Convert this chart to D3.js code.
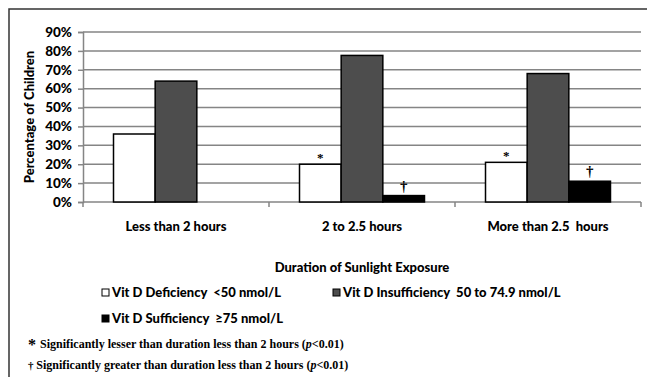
<!DOCTYPE html>
<html>
<head>
<meta charset="utf-8">
<script src="https://cdn.jsdelivr.net/npm/d3@7"></script>
<style>
  body { margin: 0; background: #fff; }
  svg { display: block; }
</style>
</head>
<body>
<div id="chart"></div>
<script>
(function(){
  'use strict';

  // data
  var categories = ['Less than 2 hours', '2 to 2.5 hours', 'More than 2.5  hours'];
  var seriesNames = ['Vit D Deficiency  <50 nmol/L', 'Vit D Insufficiency  50 to 74.9 nmol/L', 'Vit D Sufficiency  \u226575 nmol/L'];
  var deficiency = [36, 20, 21];
  var insufficiency = [64, 77.6, 68];
  var sufficiency = [0, 3.4, 11];
  var yTicks = [0, 10, 20, 30, 40, 50, 60, 70, 80, 90];
  // significance marks: series index, category index, symbol
  var marks = [
    {s: 0, c: 1, sym: '*'}, {s: 0, c: 2, sym: '*'},
    {s: 2, c: 1, sym: '\u2020'}, {s: 2, c: 2, sym: '\u2020'}
  ];
  var footnotes = [
    {sym: '*', text: 'Significantly lesser than duration less than 2 hours (', p: 'p', tail: '<0.01)'},
    {sym: '\u2020', text: 'Significantly greater than duration less than 2 hours (', p: 'p', tail: '<0.01)'}
  ];

  var series = [deficiency, insufficiency, sufficiency];
  var fills = ['#ffffff', '#4d4d4d', '#000000'];

  var W = 647, H = 377;
  var left = 83, right = 641, top = 32, bottom = 202;
  var sans = 'Lato, "Liberation Sans", Arial, sans-serif';
  var serif = '"Liberation Serif", "Times New Roman", serif';
  var fw = 900;

  var svg = d3.select('#chart').append('svg')
    .attr('width', W).attr('height', H);

  // outer frame (runs off right and bottom edges)
  svg.append('rect')
    .attr('x', 9).attr('y', 9).attr('width', 700).attr('height', 420)
    .attr('fill', 'none').attr('stroke', '#333').attr('stroke-width', 1.5);

  var x0 = d3.scaleBand().domain(d3.range(categories.length))
    .range([left, right]).paddingInner(0.328).paddingOuter(0.164);
  var x1 = d3.scaleBand().domain(d3.range(series.length))
    .range([0, x0.bandwidth()]).padding(0);
  var y = d3.scaleLinear().domain([0, 90]).range([bottom, top]);

  // gridlines
  svg.append('g').selectAll('line')
    .data(yTicks.slice(1)).enter().append('line')
    .attr('x1', left).attr('x2', right)
    .attr('y1', function(d){ return y(d); }).attr('y2', function(d){ return y(d); })
    .attr('stroke', '#858585').attr('stroke-width', 1.5);

  // y axis
  var yAxis = svg.append('g')
    .attr('transform', 'translate(' + left + ',0)')
    .call(d3.axisLeft(y).tickValues(yTicks).tickSize(5).tickPadding(6)
      .tickFormat(function(d){ return d + '%'; }));
  yAxis.select('.domain').attr('stroke', '#858585').attr('stroke-width', 1.5);
  yAxis.selectAll('.tick line').attr('stroke', '#858585').attr('stroke-width', 1.5);
  yAxis.selectAll('.tick text')
    .attr('font-family', sans).attr('font-weight', fw)
    .attr('font-size', 13.5).attr('fill', '#000');

  // x axis line with ticks between categories
  var tickXs = d3.range(categories.length + 1).map(function(i){
    return left + i * x0.step();
  });
  svg.append('line')
    .attr('x1', left).attr('x2', right).attr('y1', bottom).attr('y2', bottom)
    .attr('stroke', '#858585').attr('stroke-width', 1.5);
  svg.append('g').selectAll('line').data(tickXs).enter().append('line')
    .attr('x1', function(d){ return d; }).attr('x2', function(d){ return d; })
    .attr('y1', bottom).attr('y2', bottom + 5)
    .attr('stroke', '#858585').attr('stroke-width', 1.5);

  // bars
  var groups = svg.append('g').selectAll('g')
    .data(categories).enter().append('g')
    .attr('transform', function(d, i){ return 'translate(' + x0(i) + ',0)'; });

  groups.selectAll('rect')
    .data(function(d, ci){
      return series.map(function(s, si){ return {s: si, v: s[ci]}; });
    })
    .enter().append('rect')
    .filter(function(d){ return d.v > 0; })
    .attr('x', function(d){ return x1(d.s); })
    .attr('width', x1.bandwidth())
    .attr('y', function(d){ return y(d.v); })
    .attr('height', function(d){ return y(0) - y(d.v); })
    .attr('fill', function(d){ return fills[d.s]; })
    .attr('stroke', '#000').attr('stroke-width', 1.5);

  // significance symbols
  svg.append('g').selectAll('text')
    .data(marks).enter().append('text')
    .attr('x', function(d){ return x0(d.c) + x1(d.s) + x1.bandwidth() / 2; })
    .attr('y', function(d){ return y(series[d.s][d.c]) - (d.sym === '*' ? 2 : 5); })
    .attr('text-anchor', 'middle')
    .attr('font-family', serif).attr('font-weight', 'bold')
    .attr('font-size', function(d){ return d.sym === '*' ? 13 : 15; })
    .text(function(d){ return d.sym; });

  // category labels
  svg.append('g').selectAll('text')
    .data(categories).enter().append('text')
    .attr('x', function(d, i){ return x0(i) + x0.bandwidth() / 2; })
    .attr('y', 231)
    .attr('text-anchor', 'middle')
    .attr('font-family', sans).attr('font-weight', fw).attr('font-size', 13)
    .attr('xml:space', 'preserve')
    .text(function(d){ return d; });

  // axis titles
  svg.append('text')
    .attr('x', (left + right) / 2).attr('y', 272)
    .attr('text-anchor', 'middle')
    .attr('font-family', sans).attr('font-weight', fw).attr('font-size', 13)
    .text('Duration of Sunlight Exposure');

  svg.append('text')
    .attr('transform', 'translate(34,' + ((top + bottom) / 2) + ') rotate(-90)')
    .attr('text-anchor', 'middle')
    .attr('font-family', sans).attr('font-weight', fw).attr('font-size', 13)
    .text('Percentage of Children');

  // legend
  var legendPos = [[102, 293], [333, 293], [102, 319]];
  var legend = svg.append('g').selectAll('g')
    .data(seriesNames).enter().append('g')
    .attr('transform', function(d, i){ return 'translate(' + legendPos[i][0] + ',' + legendPos[i][1] + ')'; });
  legend.append('rect')
    .attr('x', 0).attr('y', -4).attr('width', 7).attr('height', 7)
    .attr('fill', function(d, i){ return fills[i]; })
    .attr('stroke', '#000').attr('stroke-width', 1);
  legend.append('text')
    .attr('x', 10).attr('y', 4)
    .attr('font-family', sans).attr('font-weight', fw).attr('font-size', 13)
    .attr('xml:space', 'preserve')
    .text(function(d){ return d; });

  // footnotes
  var fn = svg.append('g').selectAll('text')
    .data(footnotes).enter().append('text')
    .attr('x', 28)
    .attr('y', function(d, i){ return 348 + i * 21; })
    .attr('font-family', serif).attr('font-weight', 'bold').attr('font-size', 12);
  fn.append('tspan')
    .attr('font-size', function(d){ return d.sym === '*' ? 16 : 11; })
    .attr('dy', function(d){ return d.sym === '*' ? 2 : 0; })
    .text(function(d){ return d.sym + ' '; });
  fn.append('tspan')
    .attr('dy', function(d){ return d.sym === '*' ? -2 : 0; })
    .text(function(d){ return d.text; });
  fn.append('tspan').attr('font-style', 'italic').text(function(d){ return d.p; });
  fn.append('tspan').text(function(d){ return d.tail; });

})();
</script>
</body>
</html>
